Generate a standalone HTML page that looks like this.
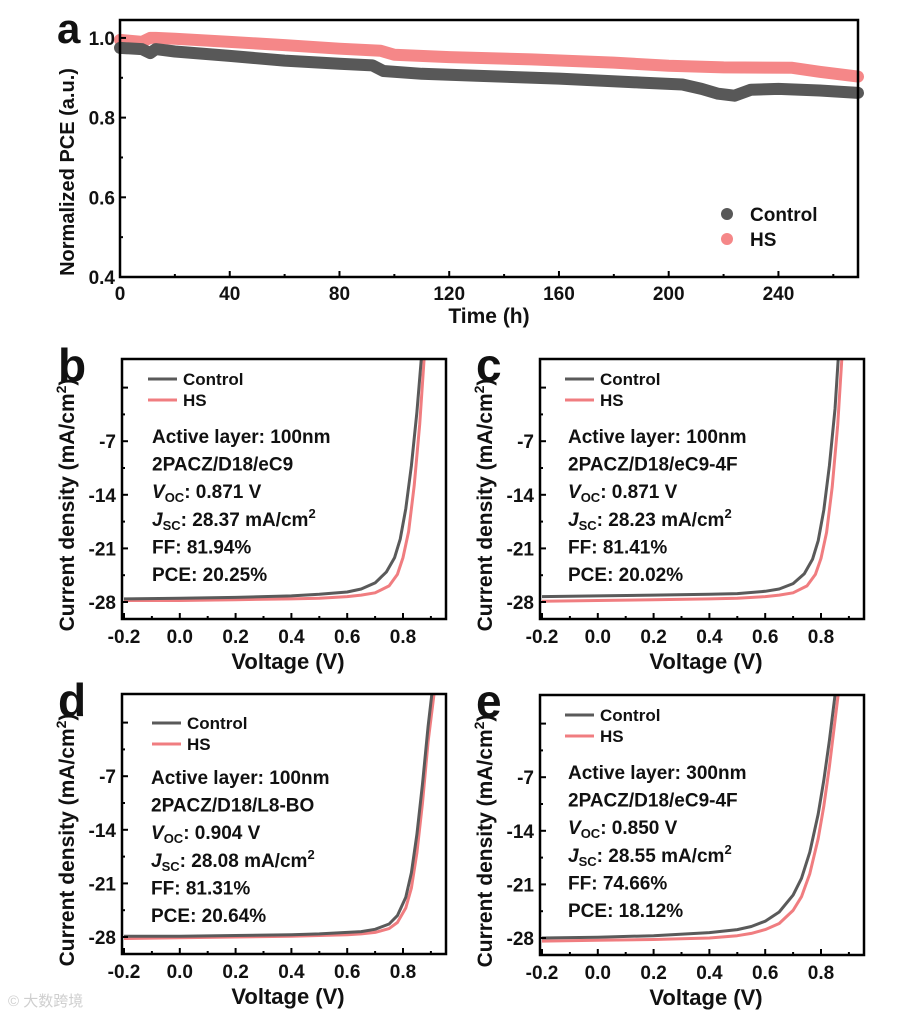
<!DOCTYPE html>
<html><head><meta charset="utf-8"><style>
html,body{margin:0;padding:0;background:#fff;}
svg text{font-family:"Liberation Sans",Arial,sans-serif;font-weight:bold;fill:#111;}
</style></head><body>
<svg id="fig" xmlns="http://www.w3.org/2000/svg" width="904" height="1015" viewBox="0 0 904 1015"></svg>
<script>
// ---- Panel a data ----
const aTimeCtrl=[0,8,11,13,20,40,60,80,92,96,110,130,160,190,205,212,218,224,230,240,255,269];
const aPceCtrl=[0.975,0.972,0.962,0.972,0.966,0.955,0.943,0.935,0.931,0.917,0.91,0.905,0.898,0.888,0.883,0.872,0.86,0.855,0.87,0.872,0.868,0.862];
const aTimeHS=[0,8,11,13,20,40,60,80,95,100,120,150,180,200,220,245,255,269];
const aPceHS=[0.995,0.99,1.0,1.0,0.998,0.99,0.982,0.973,0.968,0.958,0.952,0.946,0.938,0.93,0.926,0.925,0.915,0.903];
const aXTicks=[0,40,80,120,160,200,240];
const aYTicks=[0.4,0.6,0.8,1.0];
const jvXTicks=[-0.2,0.0,0.2,0.4,0.6,0.8];
const jvYTicks=[-7,-14,-21,-28];
// ---- JV panel data ----
const bVCtrl=[-0.2,0,0.2,0.4,0.5,0.6,0.65,0.7,0.74,0.77,0.79,0.81,0.83,0.85,0.866];
const bJCtrl=[-27.6,-27.5,-27.4,-27.2,-27.0,-26.7,-26.3,-25.5,-24.1,-22.2,-19.8,-15.8,-10.2,-3.2,3.9];
const bVHS=[-0.2,0,0.2,0.4,0.5,0.6,0.65,0.7,0.75,0.78,0.8,0.82,0.84,0.86,0.876];
const bJHS=[-27.8,-27.8,-27.7,-27.6,-27.5,-27.3,-27.1,-26.8,-25.9,-24.4,-22.2,-18.8,-12.8,-4.8,3.9];
const cVCtrl=[-0.2,0,0.2,0.4,0.5,0.6,0.65,0.7,0.74,0.77,0.79,0.81,0.83,0.85,0.862];
const cJCtrl=[-27.3,-27.2,-27.1,-27.0,-26.9,-26.6,-26.3,-25.6,-24.3,-22.4,-20.0,-16.0,-10.2,-2.8,3.9];
const cVHS=[-0.2,0,0.2,0.4,0.5,0.6,0.65,0.7,0.75,0.78,0.8,0.82,0.84,0.86,0.875];
const cJHS=[-27.9,-27.8,-27.7,-27.6,-27.5,-27.3,-27.1,-26.8,-25.9,-24.4,-22.3,-18.9,-13.0,-4.9,3.9];
const dVCtrl=[-0.2,0,0.2,0.4,0.5,0.6,0.65,0.7,0.75,0.78,0.81,0.83,0.85,0.87,0.89,0.904];
const dJCtrl=[-27.9,-27.9,-27.8,-27.7,-27.6,-27.4,-27.3,-27.0,-26.3,-25.2,-22.8,-19.6,-14.6,-8.0,-0.5,3.9];
const dVHS=[-0.2,0,0.2,0.4,0.5,0.6,0.65,0.7,0.75,0.78,0.81,0.83,0.85,0.87,0.89,0.912];
const dJHS=[-28.2,-28.1,-28.0,-27.9,-27.8,-27.7,-27.6,-27.4,-26.9,-26.1,-24.2,-21.6,-17.0,-10.5,-2.5,3.9];
const eVCtrl=[-0.2,0,0.2,0.4,0.5,0.55,0.6,0.65,0.7,0.73,0.76,0.79,0.81,0.83,0.851];
const eJCtrl=[-28.0,-27.9,-27.7,-27.3,-26.9,-26.5,-25.8,-24.6,-22.4,-20.2,-16.8,-11.8,-7.4,-2.2,3.9];
const eVHS=[-0.2,0,0.2,0.4,0.5,0.55,0.6,0.65,0.7,0.73,0.76,0.79,0.81,0.83,0.862];
const eJHS=[-28.4,-28.3,-28.2,-28.0,-27.7,-27.4,-26.9,-26.1,-24.4,-22.6,-19.6,-15.0,-10.8,-5.6,3.9];

const NS="http://www.w3.org/2000/svg";
const svg=document.getElementById('fig');
function mk(tag,attrs,parent){const e=document.createElementNS(NS,tag);for(const k in attrs)e.setAttribute(k,attrs[k]);(parent||svg).appendChild(e);return e;}
function txt(x,y,s,size,parent,anchor){const t=mk('text',{x:x,y:y,'font-size':size,'text-anchor':anchor||'start'},parent);t.textContent=s;return t;}

// ================= Panel a =================
(function(){
  const g=mk('g',{});
  
  
  const L=120,R=858,T=20,B=277;
  const xs=t=>L+(t-0)/269*(R-L);
  const ys=v=>B-(v-0.4)/(1.045-0.4)*(B-T);
  const lab=txt(57,43,'a',42,g);
  function band(T_,V_,col,name){
    const d=T_.map((t,i)=>(i?'L':'M')+xs(t).toFixed(1)+','+ys(V_[i]).toFixed(1)).join(' ');
    const p=mk('path',{d:d,fill:'none',stroke:col,'stroke-width':12,'stroke-linecap':'round','stroke-linejoin':'round'},g);
    
    
  }
  band(aTimeHS,aPceHS,'#f58788','series-hs');
  band(aTimeCtrl,aPceCtrl,'#585858','series-control');
  const f=mk('rect',{x:L,y:T,width:R-L,height:B-T,fill:'none',stroke:'#000','stroke-width':2.5},g);
  
  for(let t=0;t<=260;t+=20){const x=xs(t);mk('line',{x1:x,x2:x,y1:B,y2:B-(t%40?3:6),stroke:'#000','stroke-width':2},g);}
  aXTicks.forEach(t=>{const l=txt(xs(t),300,String(t),19,g,'middle');});
  for(let v=0.4;v<=1.001;v+=0.1){const y=ys(v);mk('line',{x1:L,x2:L+(Math.round(v*10)%2?3:6),y1:y,y2:y,stroke:'#000','stroke-width':2},g);}
  aYTicks.forEach(v=>{const l=txt(115,ys(v)+7,v.toFixed(1),19,g,'end');});
  const xt=txt(489,323,'Time (h)',21,g,'middle');
  const yt=txt(0,0,'Normalized PCE (a.u.)',20,g,'middle');yt.setAttribute('transform','translate(74,172) rotate(-90)');
  
  const c1=mk('circle',{cx:727,cy:214,r:6,fill:'#585858'},g);
  const c2=mk('circle',{cx:727,cy:239,r:6,fill:'#f58788'},g);
  const l1=txt(750,221,'Control',19,g);
  const l2=txt(750,246,'HS',19,g);
})();

// ================= JV panels =================
function jvPanel(o){
  const g=mk('g',{});
  
  
  const L=o.L,R=o.L+324,T=o.T,B=o.T+260;
  const x0=L+2, px=279/1.0;
  const xs=v=>x0+(v+0.2)*px;
  const y28=T+243, py=53.6/7;
  const ys=j=>y28-(j+28)*py;
  const lab=txt(L-64,T+22,o.letter,46,g);
  const clipId='clip'+o.letter;
  const cp=mk('clipPath',{id:clipId},g);mk('rect',{x:L,y:T,width:324,height:260},cp);
  function curve(V,J,col,name){
    const d=V.map((v,i)=>(i?'L':'M')+xs(v).toFixed(1)+','+ys(J[i]).toFixed(1)).join(' ');
    const p=mk('path',{d:d,fill:'none',stroke:col,'stroke-width':3,'stroke-linejoin':'round','clip-path':'url(#'+clipId+')'},g);
    
    
  }
  curve(o.vh,o.jh,'#f07d80','curve-hs');
  curve(o.vc,o.jc,'#5a5a5a','curve-control');
  const f=mk('rect',{x:L,y:T,width:324,height:260,fill:'none',stroke:'#000','stroke-width':2.5},g);
  
  for(let k=-2;k<=9;k++){const x=xs(k/10);mk('line',{x1:x,x2:x,y1:B,y2:B-(k%2?3:6),stroke:'#000','stroke-width':2},g);}
  jvXTicks.forEach(v=>{const l=txt(xs(v),B+24,v.toFixed(1),19,g,'middle');});
  for(let j=0;j>=-28;j-=3.5){const y=ys(j);if(y>T&&y<B)mk('line',{x1:L,x2:L+(j%7?3:6),y1:y,y2:y,stroke:'#000','stroke-width':2},g);}
  jvYTicks.forEach(j=>{const l=txt(L-6,ys(j)+7,String(j),19,g,'end');});
  const xt=txt(L+166,B+50,'Voltage (V)',22,g,'middle');
  const yt=mk('text',{'font-size':21,'text-anchor':'middle',transform:'translate('+(L-48)+','+(T+146)+') rotate(-90)'},g);
  yt.innerHTML='Current density (mA/cm<tspan dy="-8" font-size="14">2</tspan><tspan dy="8">)</tspan>';
  
  const lx=o.lx, ly=o.ly;
  const a1=mk('line',{x1:lx,x2:lx+29,y1:ly,y2:ly,stroke:'#5a5a5a','stroke-width':3},g);
  const a2=mk('line',{x1:lx,x2:lx+29,y1:ly+21,y2:ly+21,stroke:'#f07d80','stroke-width':3},g);
  const t1=txt(lx+35,ly+6,'Control',17,g);
  const t2=txt(lx+35,ly+27,'HS',17,g);
  const ax=o.tx, ay=o.ty+7, dy=27.6;
  const ann=mk('g',{},g);
  txt(ax,ay,'Active layer: '+o.layer,19,ann);
  txt(ax,ay+dy,o.stack,19,ann);
  const v=mk('text',{x:ax,y:ay+2*dy,'font-size':19},ann);
  v.innerHTML='<tspan font-style="italic">V</tspan><tspan font-size="13" dy="4">OC</tspan><tspan dy="-4">: '+o.voc+'</tspan>';
  const j=mk('text',{x:ax,y:ay+3*dy,'font-size':19},ann);
  j.innerHTML='<tspan font-style="italic">J</tspan><tspan font-size="13" dy="4">SC</tspan><tspan dy="-4">: '+o.jsc+' mA/cm</tspan><tspan font-size="13" dy="-8">2</tspan>';
  txt(ax,ay+4*dy,'FF: '+o.ff,19,ann);
  txt(ax,ay+5*dy,'PCE: '+o.pce,19,ann);
}
jvPanel({letter:'b',L:122,T:359,vc:bVCtrl,jc:bJCtrl,vh:bVHS,jh:bJHS,lx:148,ly:379,tx:152,ty:436,layer:'100nm',stack:'2PACZ/D18/eC9',voc:'0.871 V',jsc:'28.37',ff:'81.94%',pce:'20.25%'});
jvPanel({letter:'c',L:540,T:359,vc:cVCtrl,jc:cJCtrl,vh:cVHS,jh:cJHS,lx:565,ly:379,tx:568,ty:436,layer:'100nm',stack:'2PACZ/D18/eC9-4F',voc:'0.871 V',jsc:'28.23',ff:'81.41%',pce:'20.02%'});
jvPanel({letter:'d',L:122,T:694,vc:dVCtrl,jc:dJCtrl,vh:dVHS,jh:dJHS,lx:152,ly:723,tx:151,ty:777,layer:'100nm',stack:'2PACZ/D18/L8-BO',voc:'0.904 V',jsc:'28.08',ff:'81.31%',pce:'20.64%'});
jvPanel({letter:'e',L:540,T:695,vc:eVCtrl,jc:eJCtrl,vh:eVHS,jh:eJHS,lx:565,ly:715,tx:568,ty:772,layer:'300nm',stack:'2PACZ/D18/eC9-4F',voc:'0.850 V',jsc:'28.55',ff:'74.66%',pce:'18.12%'});

const wm=mk('text',{x:8,y:1006,'font-size':15,fill:'#cfcfcf'});
wm.setAttribute('style','fill:#cfcfcf;font-family:"Liberation Sans","Noto Sans CJK SC",sans-serif;font-weight:normal');
wm.textContent='©  大数跨境';


</script>
</body></html>
